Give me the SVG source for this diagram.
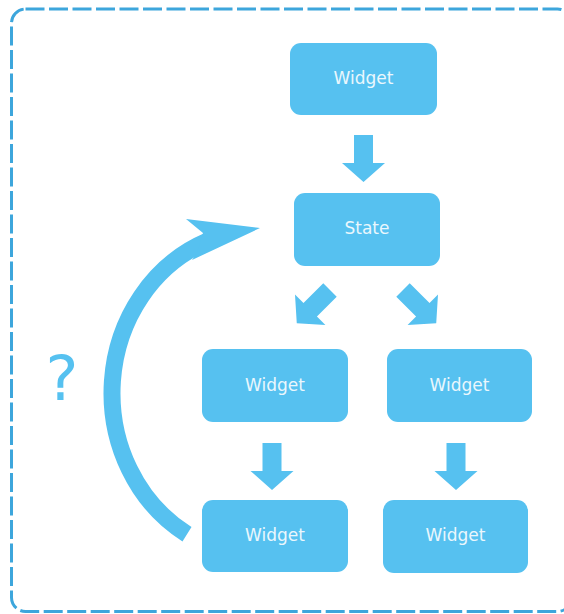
<svg xmlns="http://www.w3.org/2000/svg" width="564" height="614" viewBox="0 0 564 614">
  <style>
    .node rect { fill: #56C1F0; }
    .node text { font-family: "DejaVu Sans", Verdana, sans-serif; font-size: 17px; fill: #EAF7FD; text-anchor: middle; }
    .arrow { fill: #56C1F0; }
    .loop { fill: none; stroke: #56C1F0; stroke-width: 17; stroke-linecap: butt; }
  </style>
  <defs>
    <!-- block arrow pointing down, origin at the middle of its tail -->
    <path id="blockArrow" d="M-9.5,0 H9.5 V28 H21.5 L0,47 L-21.5,28 H-9.5 Z"/>
  </defs>

  <rect width="564" height="614" fill="#FFFFFF"/>

  <!-- dashed frame -->
  <rect x="11.5" y="9" width="560" height="602.5" rx="14" ry="14" fill="none" stroke="#3DA6DC" stroke-width="3" stroke-dasharray="19 4.5"/>

  <!-- nodes -->
  <g id="widget-top" class="node">
    <rect x="290" y="43" width="147" height="72" rx="11"/>
    <text x="363.5" y="84">Widget</text>
  </g>
  <g id="state" class="node">
    <rect x="294" y="193" width="146" height="73" rx="11"/>
    <text x="367" y="234">State</text>
  </g>
  <g id="widget-mid-left" class="node">
    <rect x="202" y="349" width="146" height="73" rx="11"/>
    <text x="275" y="390.5">Widget</text>
  </g>
  <g id="widget-mid-right" class="node">
    <rect x="387" y="349" width="145" height="73" rx="11"/>
    <text x="459.5" y="390.5">Widget</text>
  </g>
  <g id="widget-bottom-left" class="node">
    <rect x="202" y="500" width="146" height="72" rx="11"/>
    <text x="275" y="541">Widget</text>
  </g>
  <g id="widget-bottom-right" class="node">
    <rect x="383" y="500" width="145" height="73" rx="11"/>
    <text x="455.5" y="541">Widget</text>
  </g>

  <!-- question mark beside the feedback loop -->
  <text x="62" y="400" font-family="DejaVu Sans, Verdana, sans-serif" font-size="62" fill="#56C1F0" text-anchor="middle">?</text>

  <!-- connectors -->
  <g id="connectors">
    <use href="#blockArrow" class="arrow" transform="translate(363.5,135)"/>
    <use href="#blockArrow" class="arrow" transform="translate(330,290) rotate(45)"/>
    <use href="#blockArrow" class="arrow" transform="translate(403,290) rotate(-45)"/>
    <use href="#blockArrow" class="arrow" transform="translate(272,443)"/>
    <use href="#blockArrow" class="arrow" transform="translate(456,443)"/>
    <!-- curved feedback arrow from the lower widget back to the state -->
    <path class="loop" d="M187,534.2 A150,163 0 0,1 207,241.4"/>
    <path class="arrow" d="M260,228 L186,219 L203,233 L197,253 L192,260 Z"/>
  </g>
</svg>
